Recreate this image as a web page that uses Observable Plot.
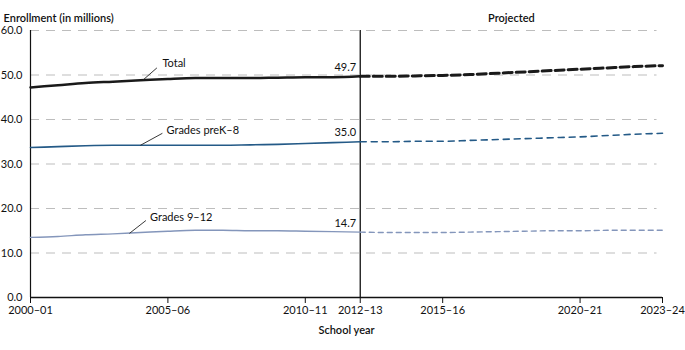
<!DOCTYPE html>
<html>
<head>
<meta charset="utf-8">
<script src="https://cdn.jsdelivr.net/npm/d3@7"></script>
<script src="https://cdn.jsdelivr.net/npm/@observablehq/plot@0.6"></script>
<style>
  html, body { margin: 0; padding: 0; background: #fff; }
  svg { font-family: "Lato", "Open Sans", sans-serif; }
</style>
</head>
<body>
<div id="chart"></div>
<script>
// ---- Data ----
const actualYears = [2000, 2001, 2002, 2003, 2004, 2005, 2006, 2007, 2008, 2009, 2010, 2011, 2012];
const totalActual = [47.2, 47.7, 48.2, 48.5, 48.8, 49.1, 49.3, 49.3, 49.3, 49.4, 49.5, 49.5, 49.7];
const preK8Actual = [33.7, 33.9, 34.1, 34.2, 34.2, 34.2, 34.2, 34.2, 34.3, 34.4, 34.6, 34.8, 35.0];
const g912Actual  = [13.5, 13.7, 14.1, 14.3, 14.6, 14.9, 15.1, 15.1, 15.0, 15.0, 14.9, 14.8, 14.7];

const projYears = [2012, 2013, 2014, 2015, 2016, 2017, 2018, 2019, 2020, 2021, 2022, 2023];
const totalProj = [49.7, 49.7, 49.8, 49.9, 50.1, 50.4, 50.7, 51.0, 51.3, 51.6, 51.9, 52.1];
const preK8Proj = [35.0, 35.0, 35.1, 35.1, 35.3, 35.5, 35.7, 35.9, 36.1, 36.4, 36.7, 36.9];
const g912Proj  = [14.7, 14.6, 14.6, 14.6, 14.7, 14.8, 14.9, 15.0, 15.0, 15.1, 15.1, 15.1];

const tickYears  = [2000, 2005, 2010, 2012, 2015, 2020, 2023];
const tickLabels = ["2000–01", "2005–06", "2010–11", "2012–13", "2015–16", "2020–21", "2023–24"];
const yTicks = [0, 10, 20, 30, 40, 50, 60];

const seriesNames = ["Total", "Grades preK–8", "Grades 9–12"];
const lastValueLabels = ["49.7", "35.0", "14.7"];
// leader line annotations: anchor on the line -> end of leader, label start
const leaderFromX = [2004.1, 2004.0, 2003.6];
const leaderFromY = [48.9, 34.2, 14.4];
const leaderToX   = [2004.6, 2004.8, 2004.2];
const leaderToY   = [51.6, 36.9, 17.3];
const labelX      = [2004.8, 2004.95, 2004.35];
const labelY      = [52.5, 37.5, 17.9];

const colors = ["#1a1a1a", "#245a87", "#8496bb"];

// ---- Build tables ----
const mk = (xs, ys) => xs.map((x, i) => ({year: x, value: ys[i]}));
const actual = [mk(actualYears, totalActual), mk(actualYears, preK8Actual), mk(actualYears, g912Actual)];
const proj = [mk(projYears, totalProj), mk(projYears, preK8Proj), mk(projYears, g912Proj)];
const lastVals = [totalActual, preK8Actual, g912Actual].map(a => a[a.length - 1]);
const annotations = seriesNames.map((n, i) => ({
  name: n, x1: leaderFromX[i], y1: leaderFromY[i], x2: leaderToX[i], y2: leaderToY[i],
  lx: labelX[i], ly: labelY[i], last: lastVals[i], lastLabel: lastValueLabels[i]
}));
const tickFmt = d => tickLabels[tickYears.indexOf(d)];
const widths = [2.5, 1.6, 1.4];
const dashes = ["9,4", "6,5", "5,4"];
const projectStart = actualYears[actualYears.length - 1];
const projectEnd = projYears[projYears.length - 1];

const marks = [
  Plot.ruleY(yTicks.filter(d => d > 0), {stroke: "#bdbdbd", strokeWidth: 1.2, strokeDasharray: "9,7", x1: 2000, x2: 2022.8}),
  Plot.axisY({ticks: yTicks, tickSize: 0, tickPadding: 8, tickFormat: d3.format(".1f"), label: null, fontSize: 11, fill: "#111"}),
  Plot.axisX({ticks: tickYears, tickSize: 6, tickPadding: 3, tickFormat: tickFmt, label: null, fontSize: 11, fill: "#111", stroke: "#111"}),
  Plot.ruleX([2000], {stroke: "#111", strokeWidth: 1.2}),
  Plot.ruleY([0], {stroke: "#111", strokeWidth: 1.4}),
  Plot.ruleX([projectStart], {stroke: "#111", strokeWidth: 1.3})
];
[2, 1, 0].forEach(i => {
  marks.push(Plot.line(actual[i], {x: "year", y: "value", stroke: colors[i], strokeWidth: widths[i], curve: "monotone-x"}));
  marks.push(Plot.line(proj[i], {x: "year", y: "value", stroke: colors[i], strokeWidth: widths[i] + (i === 0 ? 0.5 : 0), strokeDasharray: dashes[i], curve: "monotone-x"}));
});
marks.push(
  Plot.link(annotations, {x1: "x1", y1: "y1", x2: "x2", y2: "y2", stroke: "#222", strokeWidth: 0.9}),
  Plot.text(annotations, {x: "lx", y: "ly", text: "name", textAnchor: "start", fontSize: 11, fill: "#111"}),
  Plot.text(annotations, {x: projectStart, y: "last", text: "lastLabel", textAnchor: "end", dx: -4, dy: -9, fontSize: 11, fill: "#111"}),
  Plot.text(["Enrollment (in millions)"], {frameAnchor: "top-left", textAnchor: "start", dx: -27, dy: -16, fontSize: 11, fontWeight: 600, fill: "#111"}),
  Plot.text(["Projected"], {x: (projectStart + projectEnd) / 2, frameAnchor: "top", dy: -16, fontSize: 11, fontWeight: 600, fill: "#111"}),
  Plot.text(["School year"], {frameAnchor: "bottom", dy: 36, fontSize: 11, fontWeight: 600, fill: "#111"})
);

const chart = Plot.plot({
  width: 685,
  height: 350,
  marginLeft: 30,
  marginRight: 23,
  marginTop: 30,
  marginBottom: 53,
  x: {domain: [2000, 2023]},
  y: {domain: [0, 60]},
  style: {fontFamily: "Lato, 'Open Sans', sans-serif", fontSize: "11px", background: "#fff"},
  marks
});
document.getElementById("chart").appendChild(chart);
</script>
</body>
</html>
